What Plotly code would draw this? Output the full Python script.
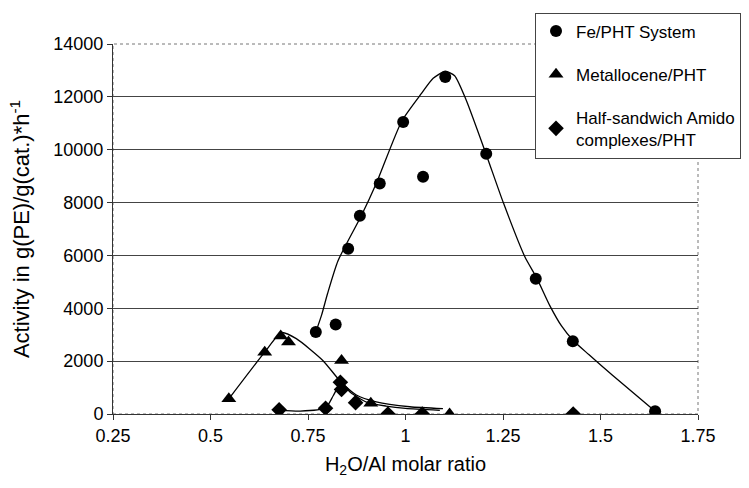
import plotly.graph_objects as go

# Measured data points
fe_x = [0.770, 0.821, 0.853, 0.883, 0.934, 0.994, 1.045, 1.102, 1.207, 1.334, 1.429, 1.640]
fe_y = [3100, 3390, 6250, 7500, 8720, 11050, 8980, 12750, 9850, 5120, 2750, 100]

met_x = [0.547, 0.639, 0.680, 0.700, 0.836, 0.911, 1.113]
met_y = [575, 2340, 2950, 2720, 2020, 410, 0]

hs_x = [0.676, 0.795, 0.833, 0.836, 0.872, 0.955, 1.043, 1.430]
hs_y = [160, 220, 1200, 930, 430, 0, 0, 0]

# Fitted trend curves
fe_cx = [0.770, 0.785, 0.800, 0.827, 0.887, 0.925, 0.990, 1.041, 1.071, 1.102, 1.126, 1.155,
         1.206, 1.251, 1.306, 1.336, 1.370, 1.400, 1.430, 1.470, 1.530, 1.640]
fe_cy = [3100, 3750, 4550, 5800, 7510, 8720, 11070, 12130, 12700, 12970, 12800, 11900,
         9860, 7990, 5950, 5160, 4100, 3330, 2780, 2250, 1480, 100]

met_cx = [0.547, 0.639, 0.682, 0.720, 0.788, 0.831, 0.874, 0.925, 1.011, 1.096]
met_cy = [575, 2342, 3080, 2850, 2027, 1270, 720, 460, 275, 200]

hs_cx = [0.676, 0.730, 0.795, 0.815, 0.835, 0.860, 0.900, 0.950, 1.000, 1.088]
hs_cy = [150, 110, 230, 700, 1180, 800, 450, 300, 210, 140]

x_ticks = [0.25, 0.5, 0.75, 1, 1.25, 1.5, 1.75]
x_ticklabels = ["0.25", "0.5", "0.75", "1", "1.25", "1.5", "1.75"]
y_ticks = [0, 2000, 4000, 6000, 8000, 10000, 12000, 14000]
y_ticklabels = ["0", "2000", "4000", "6000", "8000", "10000", "12000", "14000"]

names = ["Fe/PHT System", "Metallocene/PHT", "Half-sandwich Amido<br>complexes/PHT"]

FONT = "Liberation Sans, Arial, sans-serif"

fig = go.Figure()

for cx, cy in [(fe_cx, fe_cy), (met_cx, met_cy), (hs_cx, hs_cy)]:
    fig.add_trace(go.Scatter(x=cx, y=cy, mode="lines",
                             line=dict(color="black", width=1.3, shape="spline", smoothing=0.6),
                             showlegend=False, hoverinfo="skip"))

fig.add_trace(go.Scatter(x=fe_x, y=fe_y, mode="markers", name=names[0], legendgroup="a",
                         marker=dict(symbol="circle", size=12, color="black")))
fig.add_trace(go.Scatter(x=met_x, y=met_y, mode="markers", name=names[1], legendgroup="b",
                         marker=dict(symbol="triangle-up", size=13, color="black")))
fig.add_trace(go.Scatter(x=hs_x, y=hs_y, mode="markers", name=names[2], legendgroup="c",
                         marker=dict(symbol="diamond", size=12, color="black")))

fig.update_layout(
    width=749, height=488,
    margin=dict(l=113, r=51, t=44, b=74, autoexpand=False),
    paper_bgcolor="white", plot_bgcolor="white",
    font=dict(family=FONT, size=18, color="black"),
    xaxis=dict(range=[0.25, 1.75], tickvals=x_ticks, ticktext=x_ticklabels,
               showgrid=False, zeroline=False, showline=True, linecolor="#333", linewidth=1,
               ticks="outside", ticklen=5, tickcolor="#333", tickfont=dict(size=18),
               automargin=False,
               title=dict(text="H<sub>2</sub>O/Al molar ratio", font=dict(size=20), standoff=12)),
    yaxis=dict(range=[0, 14000], tickvals=y_ticks, ticktext=y_ticklabels,
               showgrid=True, gridcolor="#444", gridwidth=1, zeroline=False,
               showline=True, linecolor="#333", linewidth=1,
               ticks="outside", ticklen=5, tickcolor="#333", tickfont=dict(size=18),
               automargin=False,
               title=dict(text="Activity in g(PE)/g(cat.)*h<sup>-1</sup>", font=dict(size=22), standoff=17)),
    legend=dict(x=0.7214, y=1.085, xanchor="left", yanchor="top",
                bgcolor="white", bordercolor="#444", borderwidth=1,
                font=dict(size=17), traceorder="grouped", tracegroupgap=18,
                itemwidth=30),
    shapes=[dict(type="rect", xref="paper", yref="paper", x0=0, x1=1, y0=0, y1=1,
                 line=dict(color="#777", width=1, dash="dot"), layer="below")],
)

fig.write_html("out.html")
